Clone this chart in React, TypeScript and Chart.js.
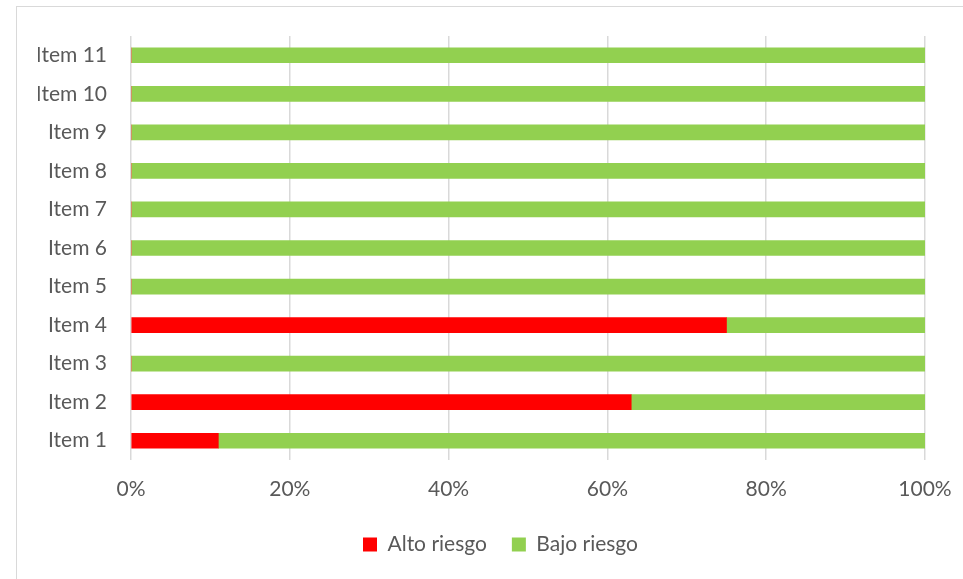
import React, { useEffect, useRef } from "react";
import { Chart, registerables } from "chart.js";

Chart.register(...registerables);

const categories = ["Item 1", "Item 2", "Item 3", "Item 4", "Item 5", "Item 6", "Item 7", "Item 8", "Item 9", "Item 10", "Item 11"];
const altoRiesgo = [11, 63, 0, 75, 0, 0, 0, 0, 0, 0, 0];
const bajoRiesgo = [89, 37, 100, 25, 100, 100, 100, 100, 100, 100, 100];
const seriesNames = ["Alto riesgo", "Bajo riesgo"];
const xTicks = [0, 20, 40, 60, 80, 100];

const FONT = "Lato";
const TEXT = "#595959";
const GRID = "#d9d9d9";

export default function App() {
  const ref = useRef<HTMLCanvasElement | null>(null);

  useEffect(() => {
    if (!ref.current) return;
    const chart = new Chart(ref.current, {
      type: "bar",
      data: {
        labels: categories,
        datasets: [
          { label: seriesNames[0], data: altoRiesgo, backgroundColor: "#ff0000", barThickness: 15 },
          { label: seriesNames[1], data: bajoRiesgo, backgroundColor: "#92d050", barThickness: 15 },
        ],
      },
      options: {
        indexAxis: "y",
        responsive: false,
        animation: false,
        layout: { padding: { top: 36, right: 0, bottom: 14, left: 38 } },
        scales: {
          x: {
            stacked: true,
            min: 0,
            max: 100,
            afterBuildTicks: (scale: any) => {
              scale.ticks = xTicks.map((v) => ({ value: v }));
            },
            ticks: {
              callback: (v: any) => v + "%",
              color: TEXT,
              font: { family: FONT, size: 21 },
              padding: 17,
              maxRotation: 0,
            },
            grid: { color: GRID, lineWidth: 1.5, drawTicks: false },
            border: { display: false },
            afterFit: (scale: any) => {
              scale.height = 49;
              scale.paddingRight = 38;
              scale.paddingLeft = 0;
            },
          },
          y: {
            stacked: true,
            reverse: true,
            ticks: {
              color: TEXT,
              font: { family: FONT, size: 21 },
              padding: 24,
            },
            grid: { display: false, drawTicks: false },
            border: { display: false },
            afterFit: (scale: any) => {
              scale.width = 93;
              scale.paddingTop = 0;
              scale.paddingBottom = 0;
            },
          },
        },
        plugins: {
          legend: {
            position: "bottom",
            labels: {
              boxWidth: 14,
              boxHeight: 14,
              padding: 25,
              color: TEXT,
              font: { family: FONT, size: 21 },
            },
          },
          tooltip: { enabled: false },
        },
      },
    });
    return () => chart.destroy();
  }, []);

  return (
    <div style={{ position: "fixed", left: 0, top: 0, width: 963, height: 579, background: "#fff", overflow: "hidden" }}>
      <div
        style={{
          position: "absolute",
          left: 16,
          top: 6,
          width: 1000,
          height: 620,
          border: "1px solid #d9d9d9",
          boxSizing: "border-box",
        }}
      />
      <canvas ref={ref} width={963} height={579} style={{ position: "absolute", left: 0, top: 0 }} />
    </div>
  );
}
